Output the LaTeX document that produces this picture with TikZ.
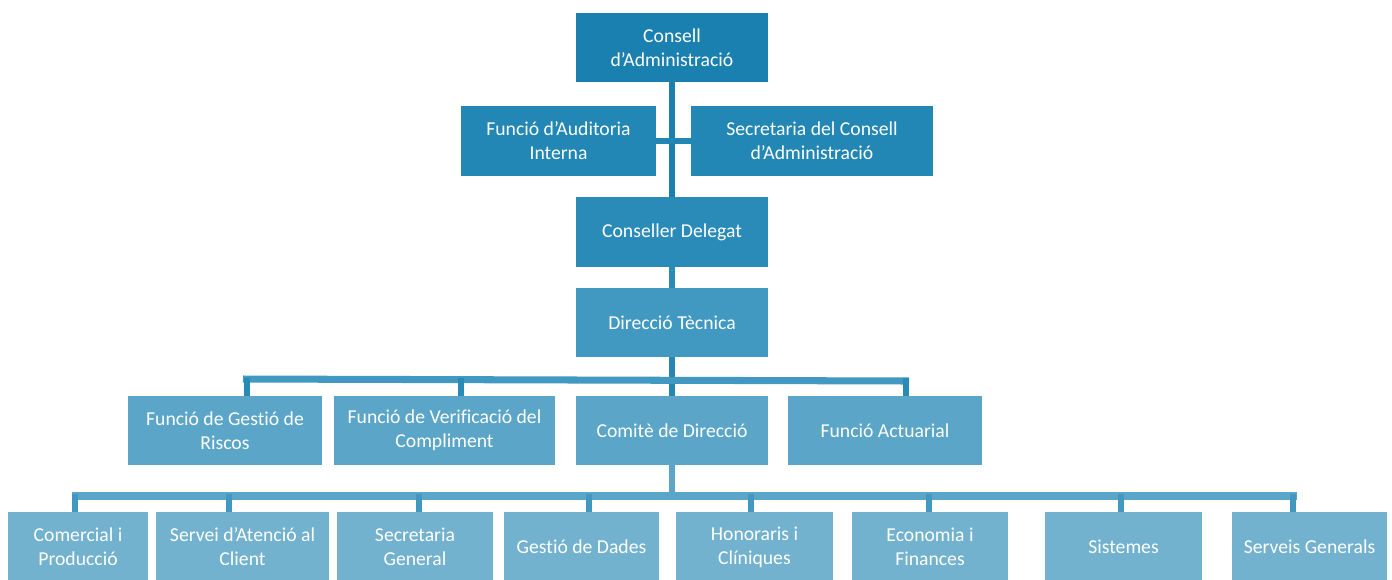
\documentclass[tikz,border=0pt]{standalone}
\usepackage{fontspec}
\setmainfont{Carlito}[Ligatures=NoCommon]
\usetikzlibrary{backgrounds}
\definecolor{lvla}{HTML}{1A80B0}
\definecolor{lvlb}{HTML}{2287B4}
\definecolor{lvlc}{HTML}{2B8BB8}
\definecolor{lvld}{HTML}{4198C0}
\definecolor{lvle}{HTML}{5BA6C8}
\definecolor{lvlf}{HTML}{72B2CF}
\newcommand{\pix}{0.02cm}
\tikzstyle{unit} = [rectangle, minimum height = 70*\pix, inner sep = 0pt, text centered, align = center, text = white, font = \fontsize{11.2}{13.6}\selectfont]
\tikzstyle{trunk} = [line width = 3.7pt]
\tikzstyle{bus} = [line width = 4pt]
\tikzstyle{drop} = [line width = 3.4pt]

\begin{document}
\begin{tikzpicture}[x = 0.02cm, y = -0.02cm]
        \useasboundingbox (0,0) rectangle (1392,579);
        % board and the units hanging on it
        \node (cons)   [unit, fill = lvla, minimum width = 192*\pix, minimum height = 69*\pix] at (672,47.5) {Consell\\d’Administració};
        \node (aud)    [unit, fill = lvlb, minimum width = 195*\pix] at (558.5,141) {Funció d’Auditoria\\Interna};
        \node (secc)   [unit, fill = lvlb, minimum width = 242*\pix] at (812,141) {Secretaria del Consell\\d’Administració};
        \node (deleg)  [unit, fill = lvlc, minimum width = 192*\pix] at (672,232) {Conseller Delegat};
        \node (dirt)   [unit, fill = lvld, minimum width = 192*\pix, minimum height = 69*\pix] at (672,322.5) {Direcció Tècnica};
        % third row
        \node (riscos) [unit, fill = lvle, minimum width = 194*\pix, minimum height = 69*\pix] at (225,430.5) {Funció de Gestió de\\Riscos};
        \node (verif)  [unit, fill = lvle, minimum width = 221*\pix, minimum height = 69*\pix] at (444.5,430.5) {Funció de Verificació del\\Compliment};
        \node (comite) [unit, fill = lvle, minimum width = 192*\pix, minimum height = 69*\pix] at (672,430.5) {Comitè de Direcció};
        \node (actuar) [unit, fill = lvle, minimum width = 194*\pix, minimum height = 69*\pix] at (885,430.5) {Funció Actuarial};
        % bottom row, cut by the page edge
        \node (comprod) [unit, fill = lvlf, minimum width = 140*\pix] at (78,547) {Comercial i\\Producció};
        \node (servei)  [unit, fill = lvlf, minimum width = 173*\pix] at (242.5,547) {Servei d’Atenció al\\Client};
        \node (secgen)  [unit, fill = lvlf, minimum width = 156*\pix] at (415,547) {Secretaria\\General};
        \node (dades)   [unit, fill = lvlf, minimum width = 155*\pix] at (581.5,547) {Gestió de Dades};
        \node (honor)   [unit, fill = lvlf, minimum width = 157*\pix] at (754.5,547) {Honoraris i\\Clíniques};
        \node (econ)    [unit, fill = lvlf, minimum width = 156*\pix] at (930,547) {Economia i\\Finances};
        \node (sist)    [unit, fill = lvlf, minimum width = 157*\pix] at (1123.5,547) {Sistemes};
        \node (servgen) [unit, fill = lvlf, minimum width = 155*\pix] at (1309.5,547) {Serveis Generals};
        \begin{pgfonlayer}{background}
        \draw [trunk, draw = lvla] (cons) -- (deleg);
        \draw [trunk, draw = lvlb] (aud) -- (secc);
        \draw [trunk, draw = lvlc] (deleg) -- (dirt);
        \draw [trunk, draw = lvla!70!lvld] (dirt) -- (comite);
        \coordinate (busa) at (243,379);
        \coordinate (busb) at (909,381);
        \draw [bus, draw = lvld] (busa) -- (busb);
        \foreach \n/\x in {riscos/247, verif/461, actuar/906}
            \draw [drop, draw = lvla!60!lvld] (\n.north -| \x,0) -- (\x,378);
        \coordinate (busc) at (72,496);
        \coordinate (busd) at (1297,496);
        \draw [bus, draw = lvle] (busc) -- (busd);
        \draw [trunk, draw = lvle] (comite) -- (comite.south |- busc);
        \foreach \n/\x in {comprod/75, servei/229, secgen/419, dades/589, honor/751, econ/929, sist/1121, servgen/1293}
            \draw [drop, draw = lvld] (\n.north -| \x,0) -- (\x,494);
        \end{pgfonlayer}
    \end{tikzpicture}
\end{document}
